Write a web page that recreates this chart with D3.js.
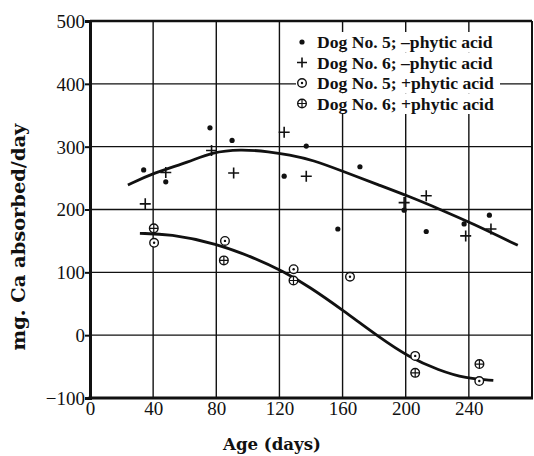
<!DOCTYPE html>
<html><head><meta charset="utf-8">
<script src="https://cdn.jsdelivr.net/npm/d3@7"></script>
<style>body{margin:0;background:#fff}svg{display:block}</style>
</head><body>
<script>
// Data
const xTicks = [0, 40, 80, 120, 160, 200, 240];
const yTicks = [-100, 0, 100, 200, 300, 400, 500];
const dog5Minus = [[34,263],[48,244],[76,330],[90,310],[123,253],[137,301],[157,169],[171,268],[199,199],[213,165],[237,177],[253,191]];
const dog6Minus = [[35,209],[48,259],[77,294],[91,258],[123,323],[137,253],[199,211],[213,222],[238,158],[254,169]];
const dog5Plus = [[40.6,147],[85.5,150],[129,105],[164.7,93],[206,-33],[246.6,-73]];
const dog6Plus = [[40.4,170],[84.8,119],[128.9,87],[206,-60],[246.7,-46]];
const curveMinus = [[24,239],[40,258],[63,276],[77,291],[95,296],[114,292],[126,287],[141,279],[161,260],[183,239],[201,222],[223,199],[242,178],[271,143]];
const curvePlus = [[31.6,162],[50.5,161],[80,146],[105,122],[122,102],[139,77],[160,40],[183,-3],[202,-35],[221,-56],[238,-69],[255.5,-72]];
const legendLabels = ["Dog No. 5; \u2013phytic acid","Dog No. 6; \u2013phytic acid","Dog No. 5; +phytic acid","Dog No. 6; +phytic acid"];

const W=534,H=456;
const L=90,R=532,T=21,B=398;
const svg=d3.select("body").append("svg").attr("width",W).attr("height",H);
const x=d3.scaleLinear().domain([0,280]).range([L,R]);
const y=d3.scaleLinear().domain([-100,500]).range([B,T]);

function fit(t,target){const w=t.node().getComputedTextLength();const fs=+t.attr("font-size");t.attr("font-size",fs*target/w);}

// grid
const g=svg.append("g");
g.selectAll(".vg").data(xTicks.slice(1).concat([280])).enter().append("line")
 .attr("x1",d=>x(d)).attr("x2",d=>x(d)).attr("y1",T).attr("y2",B)
 .attr("stroke","#111").attr("stroke-width",d=>d===280?2:1.4);
g.selectAll(".hg").data(yTicks.slice(1)).enter().append("line")
 .attr("x1",L).attr("x2",R).attr("y1",d=>y(d)).attr("y2",d=>y(d))
 .attr("stroke","#111").attr("stroke-width",d=>d===500?2.5:1.4);

// axes
const ya=d3.axisLeft(y).tickValues(yTicks).tickSize(5).tickFormat(d=>d<0?"\u2212"+Math.abs(d):d);
const yg=svg.append("g").attr("transform",`translate(${L},0)`).call(ya);
yg.select(".domain").attr("stroke-width",3).attr("stroke","#111");
yg.selectAll(".tick line").attr("stroke-width",2).attr("stroke","#111");
yg.selectAll("text").attr("font-family","Liberation Serif").attr("font-size",19).attr("fill","#111").attr("x",-5).attr("dy","0.34em");

const xa=d3.axisBottom(x).tickValues(xTicks).tickSize(0);
const xg=svg.append("g").attr("transform",`translate(0,${B})`).call(xa);
xg.select(".domain").remove();
svg.append("line").attr("x1",L-1.5).attr("x2",R+1).attr("y1",B).attr("y2",B).attr("stroke","#111").attr("stroke-width",3);
xg.selectAll("text").attr("font-family","Liberation Serif").attr("font-size",19).attr("fill","#111").attr("y",3).attr("dy","0.71em");

// titles
const xt=svg.append("text").attr("x",272).attr("y",450).attr("text-anchor","middle")
 .attr("font-family","DejaVu Serif").attr("font-weight","bold").attr("font-size",16).attr("fill","#111").text("Age (days)");
fit(xt,98);
const yt=svg.append("text").attr("transform","translate(25,237) rotate(-90)").attr("text-anchor","middle")
 .attr("font-family","DejaVu Serif").attr("font-weight","bold").attr("font-size",16).attr("fill","#111").text("mg. Ca absorbed/day");
fit(yt,227);

// curves
const line=d3.line().x(d=>x(d[0])).y(d=>y(d[1])).curve(d3.curveBasis);
[curveMinus,curvePlus].forEach(c=>svg.append("path").attr("d",line(c)).attr("fill","none").attr("stroke","#111").attr("stroke-width",2.8));

// markers
function dot(sel,cx,cy){sel.append("circle").attr("cx",cx).attr("cy",cy).attr("r",2.6).attr("fill","#111");}
function plus(sel,cx,cy,s=5.5){sel.append("path").attr("d",`M${cx-s},${cy}H${cx+s}M${cx},${cy-s}V${cy+s}`).attr("stroke","#111").attr("stroke-width",1.6);}
function cdot(sel,cx,cy){sel.append("circle").attr("cx",cx).attr("cy",cy).attr("r",4.3).attr("fill","#fff").attr("stroke","#111").attr("stroke-width",1.4);
 sel.append("circle").attr("cx",cx).attr("cy",cy).attr("r",1.2).attr("fill","#111");}
function cplus(sel,cx,cy){sel.append("circle").attr("cx",cx).attr("cy",cy).attr("r",4.3).attr("fill","#fff").attr("stroke","#111").attr("stroke-width",1.4);
 sel.append("path").attr("d",`M${cx-4.3},${cy}H${cx+4.3}M${cx},${cy-4.3}V${cy+4.3}`).attr("stroke","#111").attr("stroke-width",1.2);}
const m=svg.append("g");
dog5Minus.forEach(d=>dot(m,x(d[0]),y(d[1])));
dog6Minus.forEach(d=>plus(m,x(d[0]),y(d[1])));
dog5Plus.forEach(d=>cdot(m,x(d[0]),y(d[1])));
dog6Plus.forEach(d=>cplus(m,x(d[0]),y(d[1])));

// legend
const lg=svg.append("g");
const fns=[dot,(s,a,b)=>plus(s,a,b,5),cdot,cplus];
legendLabels.forEach((t,i)=>{
 const yy=42+i*20.5;
 lg.append("rect").attr("x",296).attr("y",yy-10).attr("width",204).attr("height",20.5).attr("fill","#fff");
});
legendLabels.forEach((t,i)=>{
 const yy=42+i*20.5;
 fns[i](lg,302,yy);
 lg.append("text").attr("x",317).attr("y",yy+6).attr("font-family","Liberation Serif").attr("font-weight","bold").attr("font-size",17.6).attr("fill","#111").text(t);
});
</script>
</body></html>
